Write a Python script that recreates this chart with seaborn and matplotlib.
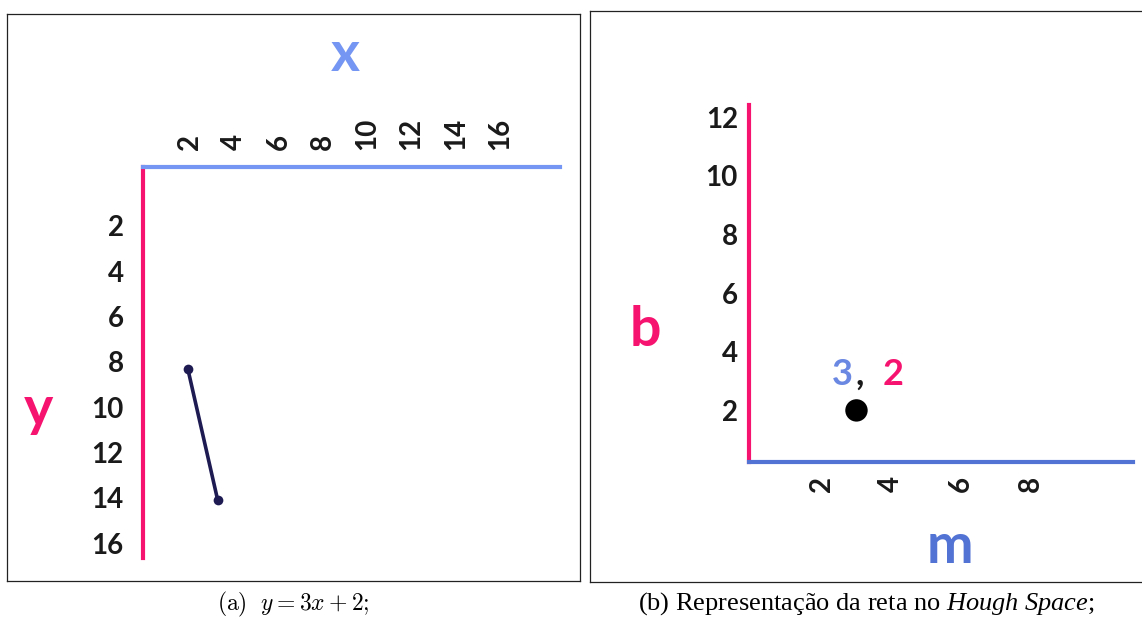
import numpy as np
import pandas as pd
import matplotlib.pyplot as plt
import seaborn as sns

# panel (a): the line y = 3x + 2, drawn in image space (y grows downward)
line_x = [1.9, 3.25]
line_y = [8.3, 14.1]
x_ticks = [2, 4, 6, 8, 10, 12, 14, 16]
y_ticks = [2, 4, 6, 8, 10, 12, 14, 16]

# panel (b): the same line as a single point in Hough space
hough_m = [3]
hough_b = [2]
m_ticks = [2, 4, 6, 8]
b_ticks = [2, 4, 6, 8, 10, 12]

caption_a = r'$\mathrm{(a)}\ \ y = 3x + 2;$'
caption_b = r'(b) Representação da reta no $\mathit{Hough\ Space}$;'

PINK = '#f5136f'
BLUE_LIGHT = '#7596f2'
BLUE = '#5273d4'
NAVY = '#1d1b52'

W, H = 1142, 621


def px_rect(left, top, right, bottom):
    return [left / W, 1 - bottom / H, (right - left) / W, (bottom - top) / H]


sns.set_theme(style='white')
plt.rcParams['font.family'] = ['Lato', 'DejaVu Sans']
plt.rcParams['mathtext.fontset'] = 'custom'
plt.rcParams['mathtext.rm'] = 'Liberation Serif'
plt.rcParams['mathtext.it'] = 'Liberation Serif:italic'

fig = plt.figure(figsize=(W / 100, H / 100), dpi=100)
fig.patch.set_facecolor('white')

# outer frames of the two sub-figures
for rect in [px_rect(7, 14, 580, 581), px_rect(590, 11, 1150, 582)]:
    frame = fig.add_axes(rect, zorder=0)
    frame.set_xticks([])
    frame.set_yticks([])
    for s in frame.spines.values():
        s.set_color('#222222')
        s.set_linewidth(0.9)


def style_ticks(ax):
    for lab in ax.get_xticklabels() + ax.get_yticklabels():
        lab.set_fontweight('bold')
        lab.set_color('#1a1a1a')


# ---- (a) image space ----
ax1 = fig.add_axes(px_rect(143, 167, 560, 558), zorder=2)
ax1.patch.set_alpha(0)
sns.lineplot(x=line_x, y=line_y, ax=ax1, color=NAVY, linewidth=2.6,
             marker='o', markersize=7, markeredgewidth=0, sort=False)
ax1.set_xlim(-0.12, 18.7)
ax1.set_ylim(16.66, -0.6)
ax1.xaxis.tick_top()
ax1.set_xticks(x_ticks)
ax1.set_yticks(y_ticks)
ax1.tick_params(axis='x', length=0, pad=12, labelsize=20, labelrotation=90)
ax1.tick_params(axis='y', length=0, pad=14, labelsize=20)
style_ticks(ax1)
ax1.spines['right'].set_visible(False)
ax1.spines['bottom'].set_visible(False)
ax1.spines['top'].set_color(BLUE_LIGHT)
ax1.spines['top'].set_linewidth(3)
ax1.spines['top'].set_zorder(3)
ax1.spines['left'].set_color(PINK)
ax1.spines['left'].set_linewidth(3)
ax1.grid(False)

fig.text(345 / W, 1 - 55 / H, 'x', color=BLUE_LIGHT, fontsize=40,
         fontweight='bold', ha='center', va='center')
fig.text(38 / W, 1 - 410 / H, 'y', color=PINK, fontsize=40,
         fontweight='bold', ha='center', va='center')

# ---- (b) Hough space ----
ax2 = fig.add_axes(px_rect(749, 105, 1133, 462), zorder=2)
ax2.patch.set_alpha(0)
sns.scatterplot(x=hough_m, y=hough_b, ax=ax2, color='black', s=260,
                edgecolor='none')
ax2.set_xlim(-0.09, 10.95)
ax2.set_ylim(0.24, 12.42)
ax2.set_xticks(m_ticks)
ax2.set_yticks(b_ticks)
ax2.tick_params(axis='x', length=0, pad=10, labelsize=20, labelrotation=90)
ax2.tick_params(axis='y', length=0, pad=8, labelsize=20)
style_ticks(ax2)
ax2.spines['right'].set_visible(False)
ax2.spines['top'].set_visible(False)
ax2.spines['bottom'].set_color(BLUE)
ax2.spines['bottom'].set_linewidth(3)
ax2.spines['left'].set_color(PINK)
ax2.spines['left'].set_linewidth(3)
ax2.grid(False)

# "3, 2" label above the point
pt = (hough_m[0], hough_b[0])
for txt, col, dx in [(str(hough_m[0]), '#6a87e2', -10), (',', '#1a1a1a', 2),
                     (str(hough_b[0]), PINK, 26)]:
    ax2.annotate(txt, xy=pt, xytext=(dx, 26), textcoords='offset points',
                 color=col, fontsize=26, fontweight='bold', ha='center',
                 va='center')

fig.text(645 / W, 1 - 330 / H, 'b', color=PINK, fontsize=40,
         fontweight='bold', ha='center', va='center')
fig.text(950 / W, 1 - 547 / H, 'm', color=BLUE, fontsize=40,
         fontweight='bold', ha='center', va='center')

# captions
fig.text(293 / W, 1 - 604 / H, caption_a, math_fontfamily='cm',
         fontsize=17, ha='center', va='center', color='black')
fig.text(866 / W, 1 - 604 / H, caption_b, family='Liberation Serif',
         fontsize=19, ha='center', va='center', color='black')

fig.savefig('out.png', dpi=100, facecolor='white')
